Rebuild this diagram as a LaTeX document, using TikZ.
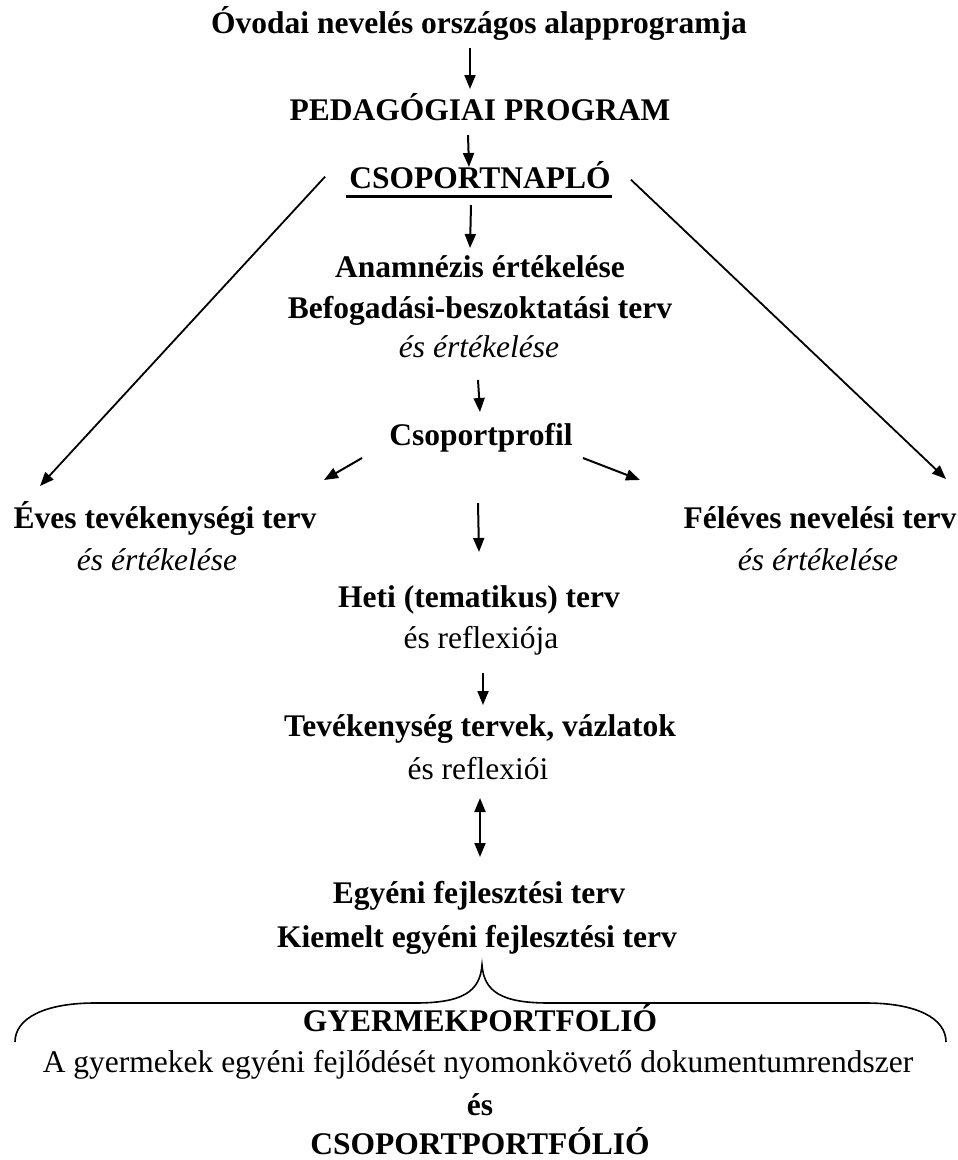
\documentclass[tikz,border=0pt]{standalone}
\usepackage{fontspec}
\setmainfont{Liberation Serif}
\usetikzlibrary{arrows.meta,calc}
\begin{document}
\begin{tikzpicture}[x=1pt,y=-1pt,
  txt/.style={anchor=base,inner sep=0pt,font=\fontsize{31.5}{40}\selectfont},
  bt/.style={txt,font=\fontsize{31.5}{40}\selectfont\bfseries},
  it/.style={txt,font=\fontsize{31.5}{40}\selectfont\itshape},
  arr/.style={line width=2pt,-{Triangle[length=14pt,width=11pt]}},
  darr/.style={line width=2pt,{Triangle[length=14pt,width=11pt]}-{Triangle[length=14pt,width=11pt]}},
  diag/.style={line width=1.8pt,-{Triangle[length=14pt,width=11pt]}}]
\useasboundingbox (0,0) rectangle (958,1160);
\fill[white] (0,0) rectangle (958,1160);
% texts
\node[bt] (title) at (479,33) {Óvodai nevelés országos alapprogramja};
\node[bt] (pedprog) at (480,120) {PEDAGÓGIAI PROGRAM};
\node[bt] (naplo) at (480,188) {CSOPORTNAPLÓ};
\node[bt] (anam1) at (480,277) {Anamnézis értékelése};
\node[bt] (anam2) at (480,318) {Befogadási-beszoktatási terv};
\node[it] (anam3) at (479,357) {és értékelése};
\node[bt] (profil) at (481,445) {Csoportprofil};
\node[bt] (eves) at (165,528) {Éves tevékenységi terv};
\node[it] (evesb) at (157,570) {és értékelése};
\node[bt] (feleves) at (820,528) {Féléves nevelési terv};
\node[it] (felevesb) at (818,570) {és értékelése};
\node[bt] (heti) at (479,607) {Heti (tematikus) terv};
\node[txt] (hetib) at (481,648) {és reflexiója};
\node[bt] (tev) at (480,736) {Tevékenység tervek, vázlatok};
\node[txt] (tevb) at (478,779) {és reflexiói};
\node[bt] (egy1) at (479,903) {Egyéni fejlesztési terv};
\node[bt] (egy2) at (477,947) {Kiemelt egyéni fejlesztési terv};
\node[bt] (gyp) at (480,1031) {GYERMEKPORTFOLIÓ};
\node[txt] (gyp2) at (478,1072) {A gyermekek egyéni fejlődését nyomonkövető dokumentumrendszer};
\node[bt] (es) at (480,1115) {és};
\node[bt] (csp) at (480,1154) {CSOPORTPORTFÓLIÓ};
% underline
\draw[line width=3pt] ($(naplo.base)+(-134,8.5)$) -- ($(naplo.base)+(132,8.5)$);
% arrows
\draw[arr] ($(title.base)+(-9,15)$) -- ($(pedprog.base)+(-10,-31)$);
\draw[arr] ($(pedprog.base)+(-12,15)$) -- ($(naplo.base)+(-11,-21)$);
\draw[arr] ($(naplo.base)+(-9,17)$) -- ($(anam1.base)+(-10,-29)$);
\draw[arr] ($(anam3.base)+(-1,23)$) -- ($(profil.base)+(-1,-33)$);
\draw[arr] ($(profil.base)+(-119,13)$) -- ($(eves.base)+(159,-48)$);
\draw[arr] ($(profil.base)+(102,13)$) -- ($(feleves.base)+(-180,-48)$);
\draw[arr] ($(profil.base)+(-3,58)$) -- ($(heti.base)+(0,-55)$);
\draw[arr] ($(hetib.base)+(2,25)$) -- ($(tev.base)+(3,-31)$);
\draw[darr] ($(tevb.base)+(2,19)$) -- ($(egy1.base)+(1,-46)$);
\draw[diag] ($(naplo.west)+(-24,2)$) -- ($(eves.base)+(-125,-42)$);
\draw[diag] ($(naplo.east)+(20,5)$) -- ($(feleves.base)+(126,-49)$);
% brace
\draw[line width=1.6pt] (15,1042) .. controls (15,1018) and (45,1003) .. (95,1003)
  -- (415,1003) .. controls (462,1003) and (480,992) .. (482,965)
  .. controls (484,992) and (502,1003) .. (549,1003)
  -- (866,1003) .. controls (916,1003) and (946,1018) .. (946,1042);
\end{tikzpicture}
\end{document}
